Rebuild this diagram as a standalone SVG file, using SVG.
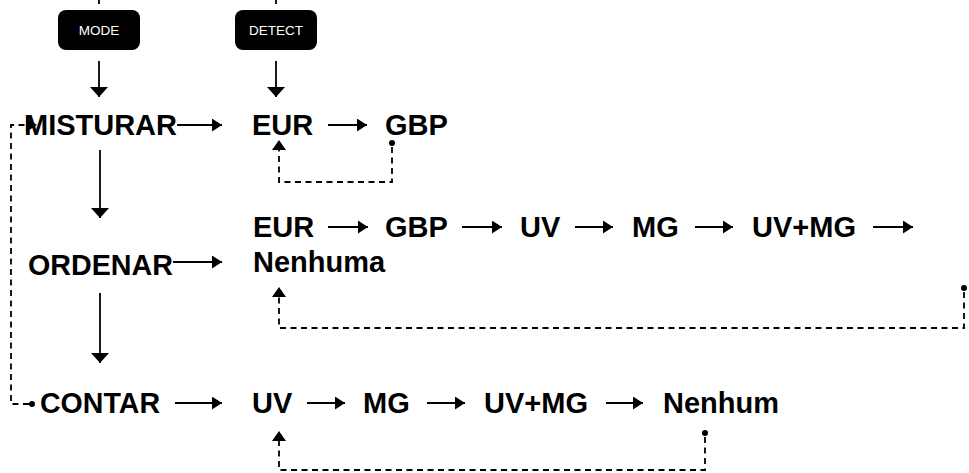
<svg xmlns="http://www.w3.org/2000/svg" width="969" height="473" viewBox="0 0 969 473">
<style>
.t{font-family:"Liberation Sans",Arial,Helvetica,sans-serif;font-weight:bold;font-size:29px;fill:#000}
.b{font-family:"Liberation Sans",Arial,Helvetica,sans-serif;font-size:13.5px;fill:#fff}
.s{stroke:#000;stroke-width:1.8;fill:none}
.a{stroke:#000;stroke-width:1.8;fill:none;marker-end:url(#ah)}
.df{stroke:#000;stroke-width:1.8;fill:none;stroke-dasharray:6 4.5}
</style>
<defs>
<marker id="ah" markerUnits="userSpaceOnUse" markerWidth="11" markerHeight="14" refX="10" refY="6.5" orient="auto"><path d="M0,0 L10,6.5 L0,13 z" fill="#000"/></marker>
<marker id="ahd" markerUnits="userSpaceOnUse" markerWidth="11" markerHeight="19" refX="10" refY="9" orient="auto"><path d="M0,0 L10,9 L0,18 z" fill="#000"/></marker>
<marker id="ah2" markerUnits="userSpaceOnUse" markerWidth="11" markerHeight="15" refX="10" refY="7" orient="auto"><path d="M0,0 L10,7 L0,14 z" fill="#000"/></marker>
</defs>

<g id="mode">
<rect x="58" y="10" width="82" height="40" rx="8" fill="#000"/>
<text class="b" x="99" y="35" text-anchor="middle">MODE</text>
</g>
<g id="detect">
<rect x="235" y="10" width="82" height="40" rx="8" fill="#000"/>
<text class="b" x="276" y="35" text-anchor="middle">DETECT</text>
</g>

<g id="misturar"><text class="t" x="24" y="135" textLength="153" lengthAdjust="spacingAndGlyphs">MISTURAR</text></g>
<g id="ordenar"><text class="t" x="28" y="275" textLength="145" lengthAdjust="spacingAndGlyphs">ORDENAR</text></g>
<g id="contar"><text class="t" x="40" y="413" textLength="120" lengthAdjust="spacingAndGlyphs">CONTAR</text></g>

<g id="row1">
<text class="t" x="252" y="135">EUR</text>
<text class="t" x="385" y="135">GBP</text>
</g>
<g id="row2">
<text class="t" x="253" y="237">EUR</text>
<text class="t" x="385" y="237">GBP</text>
<text class="t" x="520" y="237">UV</text>
<text class="t" x="632" y="237">MG</text>
<text class="t" x="752" y="237">UV+MG</text>
<text class="t" x="253" y="272">Nenhuma</text>
</g>
<g id="row3">
<text class="t" x="252" y="413">UV</text>
<text class="t" x="363" y="413">MG</text>
<text class="t" x="484" y="413">UV+MG</text>
<text class="t" x="663" y="413">Nenhum</text>
</g>

<g id="connectors">
<line class="s" x1="99" y1="0" x2="99" y2="4"/>
<line class="s" x1="276" y1="0" x2="276" y2="4"/>
<line class="s" x1="99" y1="61" x2="99" y2="97" marker-end="url(#ahd)"/>
<line class="s" x1="276" y1="61" x2="276" y2="97" marker-end="url(#ahd)"/>
<line class="s" x1="100" y1="150" x2="100" y2="218" marker-end="url(#ahd)"/>
<line class="s" x1="100" y1="293" x2="100" y2="363" marker-end="url(#ahd)"/>

<line class="a" x1="177" y1="125" x2="222" y2="125"/>
<line class="a" x1="328" y1="125" x2="367" y2="125"/>

<line class="a" x1="173" y1="262" x2="222" y2="262"/>
<line class="a" x1="328" y1="227" x2="368" y2="227"/>
<line class="a" x1="462" y1="227" x2="502" y2="227"/>
<line class="a" x1="575" y1="227" x2="613" y2="227"/>
<line class="a" x1="695" y1="227" x2="733" y2="227"/>
<line class="a" x1="873" y1="227" x2="913" y2="227"/>

<line class="a" x1="175" y1="403" x2="222" y2="403"/>
<line class="a" x1="307" y1="403" x2="345" y2="403"/>
<line class="a" x1="427" y1="403" x2="465" y2="403"/>
<line class="a" x1="606" y1="403" x2="643" y2="403"/>

<polyline class="df" points="392,147 392,182 279,182 279,150"/>
<path d="M272,150 L279,140 L286,150 z" fill="#000"/>
<circle cx="392" cy="143" r="3" fill="#000"/>

<polyline class="df" points="964,292 964,328 279,328 279,297"/>
<path d="M272,297 L279,287 L286,297 z" fill="#000"/>
<circle cx="964" cy="288" r="3" fill="#000"/>

<polyline class="df" points="705,437 705,470 279,470 279,441"/>
<path d="M272,441 L279,431 L286,441 z" fill="#000"/>
<circle cx="705" cy="433" r="3" fill="#000"/>

<polyline class="df" points="29,404 11,404 11,125 27,125"/>
<path d="M26,118 L37,125 L26,132 z" fill="#000"/>
<circle cx="32" cy="404" r="3" fill="#000"/>
</g>
</svg>
